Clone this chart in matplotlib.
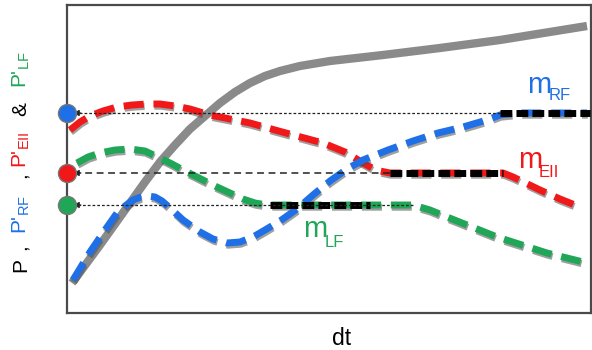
import matplotlib
matplotlib.use("Agg")
import matplotlib.pyplot as plt
import matplotlib.patheffects as pe

plt.rcParams['font.family'] = ['Liberation Sans', 'DejaVu Sans']
plt.rcParams['mathtext.fontset'] = 'custom'
plt.rcParams['mathtext.rm'] = 'Liberation Sans'

# ---- data (schematic units: x 0..524, y 0..308) ----
gray_x = [5, 19, 33, 48, 63, 78, 93, 108, 123, 138, 153, 168, 183, 198, 213, 233, 263,
          316, 373, 433, 520]
gray_y = [30, 49, 68, 89, 110, 131, 151, 168, 184, 197, 210, 221, 230, 237, 242, 247, 252,
          258, 265, 273, 287]

rf_x = [6, 23, 38, 50, 58, 66, 74, 81, 88, 95, 103, 116, 133, 146, 160, 173, 186, 198,
        213, 230, 246, 263, 280, 296, 321, 346, 371, 396, 420, 433, 453, 520]
rf_y = [33, 61, 83, 100, 107, 113, 116, 117, 116, 112, 105, 93, 81, 74, 70, 71, 76, 83,
        92, 104, 118, 132, 144, 153, 163, 172, 180, 186, 193, 198, 200, 200]

ell_x = [3, 13, 23, 36, 50, 65, 80, 93, 108, 123, 143, 183, 208, 230, 256, 278, 288,
         296, 305, 313, 323, 436, 446, 473, 493, 513]
ell_y = [183, 191, 197, 202, 206, 208, 209, 209, 207, 204, 198, 190, 183, 177, 170, 161,
         155, 150, 145, 142, 140, 140, 136, 123, 114, 106]

lf_x = [10, 21, 33, 48, 63, 78, 93, 105, 116, 150, 176, 188, 200, 346, 363, 380, 405,
        430, 455, 480, 520]
lf_y = [150, 156, 160, 163, 164, 162, 155, 149, 143, 126, 114, 110, 108, 108, 103, 96,
        86, 76, 68, 60, 50]

levels = [200, 140, 108]            # P'_RF, P'_EII, P'_LF
plateau_start = [433, 323, 203]
plateau_end = [523, 436, 303]
ref_end = [433, 323, 346]
ref_styles = [(0, (2.2, 1.6)), (0, (4.5, 3.0)), (0, (2.2, 1.6))]
ref_widths = [0.9, 1.1, 0.9]

c_blue = '#1f6fe6'
c_red = '#f01818'
c_green = '#1fa657'
c_gray = '#8a8a8a'
colors = [c_blue, c_red, c_green]

fig = plt.figure(figsize=(5.92, 3.5), dpi=100)
ax = fig.add_axes([67 / 592, 1 - 313 / 350, 524 / 592, 308 / 350])
ax.set_xlim(0, 524)
ax.set_ylim(0, 308)
ax.set_xticks([])
ax.set_yticks([])
for s in ax.spines.values():
    s.set_color('#4a4a4a')
    s.set_linewidth(1.6)

ax.plot(gray_x, gray_y, color=c_gray, lw=6, solid_capstyle='butt',
        solid_joinstyle='round', zorder=2)

shadow = [pe.SimpleLineShadow(offset=(0.6, -1.6), shadow_color='#505050', alpha=0.55),
          pe.Normal()]
for xs, ys, c in [(ell_x, ell_y, c_red), (lf_x, lf_y, c_green), (rf_x, rf_y, c_blue)]:
    ax.plot(xs, ys, color=c, lw=5, linestyle=(0, (2.9, 1.4)), dash_capstyle='butt',
            dash_joinstyle='round', path_effects=shadow, zorder=3)

for i in range(3):
    ax.plot([plateau_start[i], plateau_end[i]], [levels[i], levels[i]], color='black',
            lw=5, linestyle=(0, (1.7, 0.6)), dash_capstyle='butt', zorder=4,
            clip_on=False)
    ax.plot([ref_end[i], 12], [levels[i], levels[i]], color='#222222', lw=ref_widths[i],
            linestyle=ref_styles[i], zorder=5)
    ax.annotate('', xy=(6, levels[i]), xytext=(14, levels[i]),
                arrowprops=dict(arrowstyle='-|>', color='#222222', lw=0.8,
                                mutation_scale=9, shrinkA=0, shrinkB=0), zorder=5)
    ax.plot([0], [levels[i]], 'o', ms=13, color=colors[i], mec='#777777', mew=1,
            clip_on=False, zorder=6)


def ptext(x, y, s, **kw):
    return fig.text(x / 592, 1 - y / 350, s, **kw)


# curve labels
lab = [('m', 'RF', c_blue, 527, 93, 549, 100),
       ('m', 'EII', c_red, 518, 168, 539, 177),
       ('m', 'LF', c_green, 303, 237, 325, 247)]
for m, sub, c, mx, my, sx, sy in lab:
    ptext(mx, my, m, color=c, fontsize=21, ha='left', va='baseline')
    ptext(sx, sy, sub, color=c, fontsize=12, ha='left', va='baseline')

# x label
ptext(332, 345, 'dt', color='black', fontsize=16.5, ha='left', va='baseline')

# multi-coloured y label
pieces = [('P', 'black', 272), (',', 'black', 250),
          (r"P'$_\mathregular{RF}$", c_blue, 234), (',', 'black', 178),
          (r"P'$_\mathregular{EII}$", c_red, 168), ('&', 'black', 116),
          (r"P'$_\mathregular{LF}$", c_green, 88)]
for s, c, yb in pieces:
    ptext(26, yb, s, color=c, fontsize=15, rotation=90, rotation_mode='anchor',
          ha='left', va='baseline')

fig.savefig('out.png', dpi=100)
